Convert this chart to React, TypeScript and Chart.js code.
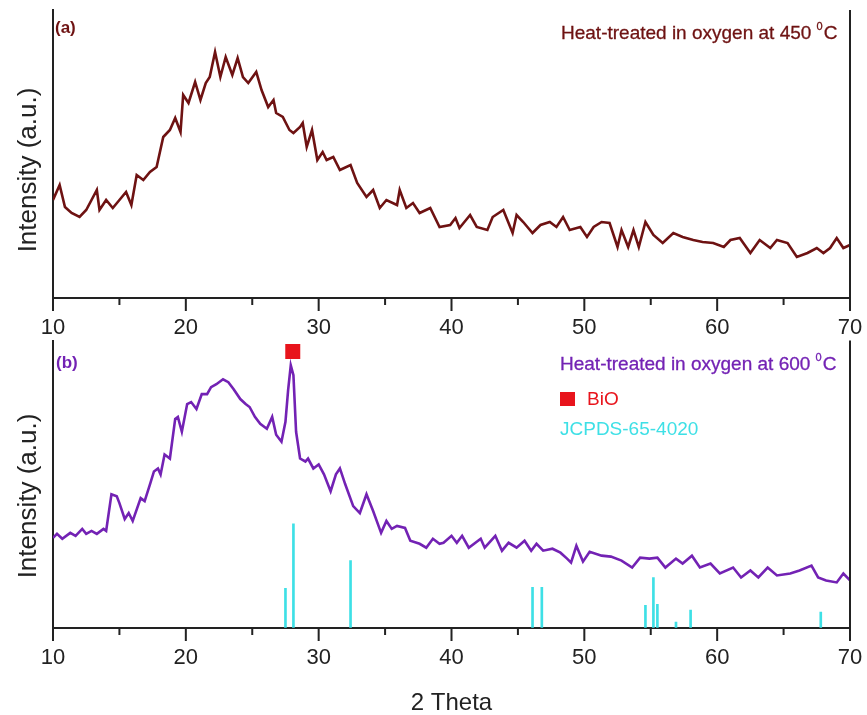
import React, { useEffect, useRef } from 'react';
import { Chart, registerables } from 'chart.js';

Chart.register(...registerables);

// ---------- data ----------
const xTickValues = [10, 20, 30, 40, 50, 60, 70];
const xMinorTicks = [15, 25, 35, 45, 55, 65];

// (a) heat-treated at 450 °C
const angleA = [10.0, 10.5, 10.9, 11.4, 12.0, 12.5, 13.3, 13.5, 14.0, 14.5, 15.0, 15.5, 15.9, 16.3, 16.8, 17.3, 17.8, 18.3, 18.8, 19.2, 19.6, 19.8, 20.2, 20.7, 21.1, 21.5, 21.8, 22.2, 22.6, 23.0, 23.5, 23.9, 24.3, 24.7, 25.3, 25.7, 26.2, 26.6, 26.8, 27.3, 27.8, 28.1, 28.6, 28.8, 29.1, 29.5, 29.9, 30.3, 30.6, 31.1, 31.6, 32.4, 32.9, 33.6, 34.1, 34.6, 35.1, 35.9, 36.1, 36.6, 37.1, 37.6, 38.4, 39.1, 39.9, 40.3, 40.6, 41.4, 41.9, 42.7, 43.1, 43.9, 44.6, 44.9, 45.4, 46.1, 46.7, 47.4, 47.9, 48.4, 48.9, 49.7, 50.2, 50.7, 51.3, 51.9, 52.5, 52.8, 53.3, 53.7, 54.1, 54.6, 55.2, 55.9, 56.7, 57.4, 58.2, 58.9, 59.7, 60.5, 61.0, 61.7, 62.5, 63.2, 64.0, 64.5, 65.3, 66.0, 66.8, 67.5, 68.0, 68.5, 69.0, 69.5, 70.0];
const intensityA = [98, 113, 91, 85, 81, 88, 108, 88, 98, 90, 98, 106, 93, 123, 118, 126, 131, 161, 168, 180, 166, 203, 195, 216, 198, 215, 221, 246, 221, 241, 223, 240, 221, 215, 226, 208, 191, 198, 185, 181, 168, 165, 171, 175, 151, 168, 138, 146, 138, 141, 128, 133, 115, 101, 108, 90, 98, 93, 108, 90, 95, 85, 90, 71, 73, 80, 70, 83, 71, 68, 81, 88, 65, 83, 76, 65, 73, 76, 71, 81, 68, 71, 61, 71, 76, 75, 51, 68, 51, 68, 51, 76, 63, 55, 65, 61, 58, 56, 55, 51, 58, 60, 45, 58, 50, 58, 55, 41, 45, 50, 45, 50, 60, 50, 53];

// (b) heat-treated at 600 °C
const angleB = [10.0, 10.3, 10.7, 11.3, 11.7, 12.2, 12.5, 12.9, 13.3, 13.8, 14.0, 14.4, 14.8, 15.0, 15.4, 15.7, 16.0, 16.6, 16.9, 17.3, 17.6, 17.9, 18.1, 18.4, 18.8, 19.2, 19.4, 19.7, 20.1, 20.4, 20.8, 21.2, 21.6, 21.9, 22.3, 22.8, 23.2, 23.6, 24.1, 24.5, 24.8, 25.2, 25.6, 26.1, 26.5, 26.8, 27.2, 27.5, 27.7, 27.9, 28.1, 28.3, 28.6, 29.0, 29.2, 29.6, 30.0, 30.4, 30.9, 31.3, 31.6, 32.0, 32.6, 33.1, 33.6, 34.1, 34.7, 35.1, 35.5, 35.9, 36.5, 36.9, 37.6, 38.1, 38.6, 39.1, 39.4, 40.0, 40.4, 40.8, 41.3, 42.2, 42.5, 43.3, 43.8, 44.3, 44.9, 45.5, 46.0, 46.4, 46.9, 47.6, 48.2, 48.7, 49.0, 49.4, 49.9, 50.4, 51.3, 52.0, 52.8, 53.6, 54.2, 54.9, 55.5, 56.1, 56.9, 57.4, 58.1, 58.7, 59.5, 60.2, 61.2, 61.8, 62.5, 63.1, 63.8, 64.5, 65.5, 66.2, 67.1, 67.6, 68.2, 69.0, 69.5, 70.0];
const intensityB = [91, 95, 90, 96, 93, 100, 95, 98, 95, 100, 98, 135, 133, 126, 110, 116, 108, 131, 128, 145, 158, 161, 155, 175, 171, 211, 213, 198, 226, 228, 221, 236, 236, 243, 246, 251, 248, 241, 231, 226, 223, 213, 206, 201, 213, 195, 188, 208, 240, 265, 255, 198, 171, 168, 171, 161, 165, 155, 138, 155, 161, 145, 123, 116, 135, 118, 96, 108, 100, 103, 101, 88, 85, 81, 90, 85, 86, 93, 86, 93, 81, 90, 81, 93, 78, 86, 81, 88, 78, 85, 78, 80, 76, 70, 66, 83, 67, 77, 73, 72, 68, 61, 71, 70, 71, 61, 70, 65, 73, 61, 65, 55, 61, 51, 58, 51, 61, 53, 55, 58, 63, 51, 48, 46, 55, 48];

// JCPDS-65-4020 reference lines
const refAngles = [27.5, 28.1, 32.4, 46.1, 46.8, 54.6, 55.2, 55.5, 56.9, 58.0, 67.8];
const refHeights = [40, 105, 68, 41, 41, 23, 51, 24, 6, 18, 16];

// BiO marker
const bioAngle = [28.05];
const bioHeight = [279];

// ---------- styling ----------
const FONT = '"Liberation Sans", Arial, Helvetica, sans-serif';
const AXIS = '#222';
const COLOR_A = '#6e1212';
const COLOR_B = '#7322b4';
const COLOR_REF = '#3ee0e6';
const COLOR_BIO = '#e8141c';

const framePlugin = {
  id: 'frame',
  afterDraw(chart: any) {
    const { ctx, chartArea: a, scales } = chart;
    const x = scales.x;
    ctx.save();
    ctx.strokeStyle = AXIS;
    ctx.lineWidth = 2;
    ctx.beginPath();
    ctx.moveTo(a.right, a.top);
    ctx.lineTo(a.right, a.bottom + 1);
    xTickValues.forEach((v) => {
      const px = x.getPixelForValue(v);
      ctx.moveTo(px, a.bottom);
      ctx.lineTo(px, a.bottom + 13);
    });
    xMinorTicks.forEach((v) => {
      const px = x.getPixelForValue(v);
      ctx.moveTo(px, a.bottom);
      ctx.lineTo(px, a.bottom + 7);
    });
    ctx.stroke();
    ctx.restore();
  },
};

function makeOptions(yMax: number, xAxisHeight: number, padTop: number, withTitle: boolean) {
  return {
    responsive: false,
    animation: false as const,
    layout: { padding: { left: 0, right: 17, top: padTop, bottom: 0 } },
    plugins: { legend: { display: false }, tooltip: { enabled: false } },
    scales: {
      x: {
        type: 'linear' as const,
        min: 10,
        max: 70,
        offset: false,
        afterBuildTicks: (s: any) => {
          s.ticks = xTickValues.map((v) => ({ value: v }));
        },
        afterFit: (s: any) => {
          s.height = xAxisHeight;
        },
        ticks: {
          autoSkip: false,
          maxRotation: 0,
          padding: 4,
          color: AXIS,
          font: { family: FONT, size: 22 },
        },
        grid: {
          drawOnChartArea: false,
          drawTicks: true,
          tickLength: 13,
          tickWidth: 2,
          tickColor: 'rgba(0,0,0,0)',
        },
        border: { display: true, color: AXIS, width: 2 },
        title: {
          display: withTitle,
          text: '2 Theta',
          color: AXIS,
          font: { family: FONT, size: 24, lineHeight: 1 },
          padding: 0,
        },
      },
      y: {
        type: 'linear' as const,
        min: 0,
        max: yMax,
        afterFit: (s: any) => {
          s.width = 53;
        },
        ticks: { display: false },
        grid: { drawOnChartArea: false, drawTicks: false },
        border: { display: true, color: AXIS, width: 2 },
      },
    },
  };
}

function TopChart() {
  const ref = useRef<HTMLCanvasElement>(null);
  useEffect(() => {
    const chart = new Chart(ref.current!, {
      type: 'line',
      data: {
        datasets: [
          {
            data: angleA.map((a, i) => ({ x: a, y: intensityA[i] })),
            borderColor: COLOR_A,
            borderWidth: 2.6,
            pointRadius: 0,
            tension: 0,
          },
        ],
      },
      options: makeOptions(288, 47, 10, false) as any,
      plugins: [framePlugin],
    });
    return () => chart.destroy();
  }, []);
  return <canvas ref={ref} width={867} height={345} style={{ position: 'absolute', left: 0, top: 0 }} />;
}

function BottomChart() {
  const ref = useRef<HTMLCanvasElement>(null);
  useEffect(() => {
    const chart = new Chart(ref.current!, {
      type: 'line',
      data: {
        datasets: [
          {
            type: 'bar' as const,
            data: refAngles.map((a, i) => ({ x: a, y: refHeights[i] })) as any,
            backgroundColor: COLOR_REF,
            borderWidth: 0,
            barThickness: 2,
            order: 3,
          },
          {
            type: 'line' as const,
            data: angleB.map((a, i) => ({ x: a, y: intensityB[i] })),
            borderColor: COLOR_B,
            borderWidth: 2.6,
            pointRadius: 0,
            tension: 0,
            order: 2,
          },
          {
            type: 'scatter' as const,
            data: bioAngle.map((a, i) => ({ x: a, y: bioHeight[i] })),
            pointStyle: 'rect',
            pointRadius: 10.6,
            backgroundColor: COLOR_BIO,
            borderWidth: 0,
            showLine: false,
            order: 1,
          } as any,
        ],
      } as any,
      options: makeOptions(290, 87, 8, true) as any,
      plugins: [framePlugin],
    });
    return () => chart.destroy();
  }, []);
  return <canvas ref={ref} width={867} height={385} style={{ position: 'absolute', left: 0, top: 330 }} />;
}

const txt = (extra: React.CSSProperties): React.CSSProperties => ({
  position: 'absolute',
  fontFamily: FONT,
  whiteSpace: 'nowrap',
  ...extra,
});

const sup: React.CSSProperties = { fontSize: 11, position: 'relative', top: -9, marginRight: 1 };

export default function App() {
  return (
    <div style={{ position: 'fixed', left: 0, top: 0, width: 867, height: 715, background: '#fff', overflow: 'hidden' }}>
      <TopChart />
      <BottomChart />
      {/* y titles */}
      <div style={txt({ left: 27, top: 170, fontSize: 26, lineHeight: '26px', color: AXIS, transform: 'translate(-50%, -50%) rotate(-90deg)' })}>
        Intensity (a.u.)
      </div>
      <div style={txt({ left: 27, top: 496, fontSize: 26, lineHeight: '26px', color: AXIS, transform: 'translate(-50%, -50%) rotate(-90deg)' })}>
        Intensity (a.u.)
      </div>
      {/* panel (a) */}
      <div style={txt({ left: 55, top: 19, fontSize: 17, lineHeight: '17px', fontWeight: 'bold', color: COLOR_A })}>(a)</div>
      <div style={txt({ left: 561, top: 23, fontSize: 19, lineHeight: '19px', color: COLOR_A, WebkitTextStroke: '0.3px' })}>
        Heat-treated in oxygen at 450 <span style={sup}>0</span>C
      </div>
      {/* panel (b) */}
      <div style={txt({ left: 56, top: 354, fontSize: 17, lineHeight: '17px', fontWeight: 'bold', color: COLOR_B })}>(b)</div>
      <div style={txt({ left: 560, top: 354, fontSize: 19, lineHeight: '19px', color: COLOR_B, WebkitTextStroke: '0.3px' })}>
        Heat-treated in oxygen at 600 <span style={sup}>0</span>C
      </div>
      <div style={{ position: 'absolute', left: 560, top: 392, width: 15, height: 14, background: COLOR_BIO }} />
      <div style={txt({ left: 587, top: 389, fontSize: 19, lineHeight: '19px', color: COLOR_BIO })}>BiO</div>
      <div style={txt({ left: 560, top: 419, fontSize: 19, lineHeight: '19px', color: COLOR_REF })}>JCPDS-65-4020</div>
    </div>
  );
}
